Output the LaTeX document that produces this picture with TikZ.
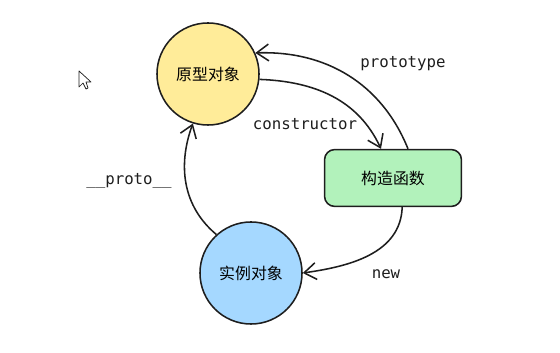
\documentclass[tikz,border=0pt]{standalone}
\usepackage{fontspec}
\setmonofont{DejaVu Sans Mono}
\newfontfamily\cjk{Noto Sans CJK SC}
\usetikzlibrary{arrows.meta}
\definecolor{inkline}{HTML}{1E1E1E}
\definecolor{protofill}{HTML}{FFEC99}
\definecolor{funcfill}{HTML}{B2F2BB}
\definecolor{instfill}{HTML}{A5D8FF}

\begin{document}
\begin{tikzpicture}[x=0.025cm, y=-0.025cm,
        objnode/.style={circle, draw=inkline, line width=1.1pt, minimum size=2.55cm, inner sep=0pt, font=\cjk\fontsize{11.3}{13}\selectfont},
        fnnode/.style={rectangle, rounded corners=0.25cm, draw=inkline, line width=1.1pt, minimum width=3.42cm, minimum height=1.42cm, fill=funcfill, font=\cjk\fontsize{11.3}{13}\selectfont},
        link/.style={draw=inkline, line width=1.1pt, -{Straight Barb[length=3mm, width=4.2mm]}},
        lbl/.style={font=\ttfamily\fontsize{11.2}{13}\selectfont, text=inkline}]
        \useasboundingbox (0,0) rectangle (560,353);
        % shapes
        \node[objnode, fill=protofill] (proto) at (208,74) {原型对象};
        \node[fnnode] (func) at (393,178) {构造函数};
        \node[objnode, fill=instfill] (inst) at (251,273) {实例对象};

        % arrows
        \path[link]([xshift=0.375cm]func.north) to[out=112, in=2] (proto.24);
        \path[link](proto.-6) to[out=-2, in=115] ([xshift=-0.3cm]func.north);
        \path[link]([xshift=0.23cm]func.south) to[out=-92, in=8] (inst.0);
        \path[link](inst.132) to[out=140, in=-110] (proto.-107);

        \node[lbl] (ptype) at (403,64) {prototype};
        \node[lbl] (ctor) at (305,124) {constructor};
        \node[lbl] (dproto) at (129,181) {\_\_proto\_\_};
        \node[lbl] (newop) at (386,274) {new};

        % cursor
        \draw[inkline, line width=0.5pt, fill=white, line join=round]
            (79,71) -- (79,87) -- (83,83) -- (86,89) -- (88,88) -- (86,82) -- (91,82) -- cycle;
\end{tikzpicture}
\end{document}
